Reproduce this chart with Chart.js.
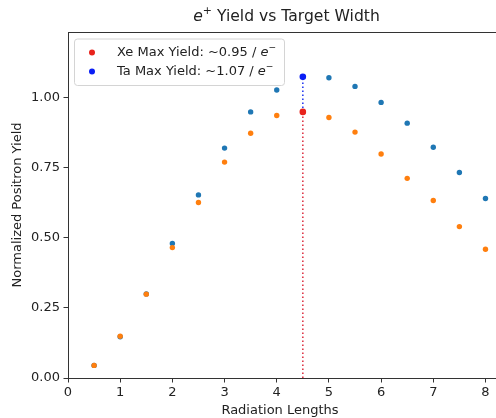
<!DOCTYPE html>
<html>
<head>
<meta charset="utf-8">
<script src="https://cdn.jsdelivr.net/npm/chart.js@4.4.0/dist/chart.umd.min.js"></script>
<style>
  html, body { margin: 0; padding: 0; overflow: hidden; background: #fff; }
  #chart { display: block; }
</style>
</head>
<body>
<canvas id="chart" width="496" height="418"></canvas>
<script>
const radiationLengths = [0.5, 1, 1.5, 2, 2.5, 3, 3.5, 4, 4.5, 5, 5.5, 6, 6.5, 7, 7.5, 8];
const xeYield = [0.045, 0.149, 0.299, 0.465, 0.626, 0.770, 0.873, 0.936, 0.949, 0.929, 0.877, 0.799, 0.712, 0.633, 0.540, 0.459];
const taYield = [0.045, 0.147, 0.300, 0.480, 0.653, 0.820, 0.949, 1.027, 1.074, 1.071, 1.040, 0.983, 0.909, 0.823, 0.733, 0.640];
const xeMax = { x: 4.5, y: 0.949 };
const taMax = { x: 4.5, y: 1.074 };
const xTicks = [0, 1, 2, 3, 4, 5, 6, 7, 8];
const yTicks = [0, 0.25, 0.5, 0.75, 1];
const xFullRange = 8.375; // the original axes run past the cropped right edge

const titleText = "e⁺ Yield vs Target Width";
const xLabel = "Radiation Lengths";
const yLabel = "Normalized Positron Yield";
const xeLabel = "Xe Max Yield: ~0.95 / e⁻";
const taLabel = "Ta Max Yield: ~1.07 / e⁻";

const FONT = "'DejaVu Sans', sans-serif";
const TEXT = "#222";
const AXIS = "#333";
const xeMaxColor = "#e8231c";
const taMaxColor = "#0a1ef5";

const toPoints = (ys) => radiationLengths.map((x, i) => ({ x, y: ys[i] }));

// draws "... e⁺ ..." with an italic e and a small raised sign, like mathtext
const drawRich = (ctx, text, x, y, size, align) => {
  const m = text.match(/^(.*?)e([⁺⁻])(.*)$/);
  const parts = m
    ? [
        { t: m[1], font: `${size}px ${FONT}`, dy: 0 },
        { t: "e", font: `italic ${size}px ${FONT}`, dy: 0 },
        { t: m[2] === "⁺" ? "+" : "−", font: `${size * 0.7}px ${FONT}`, dy: -size * 0.38 },
        { t: m[3], font: `${size}px ${FONT}`, dy: 0 },
      ]
    : [{ t: text, font: `${size}px ${FONT}`, dy: 0 }];
  let total = 0;
  parts.forEach((p) => {
    ctx.font = p.font;
    p.w = ctx.measureText(p.t).width;
    total += p.w;
  });
  let cx = align === "center" ? x - total / 2 : x;
  ctx.textAlign = "left";
  ctx.textBaseline = "middle";
  parts.forEach((p) => {
    ctx.font = p.font;
    ctx.fillText(p.t, cx, y + p.dy);
    cx += p.w;
  });
  return total;
};

const framePlugin = {
  id: "frame",
  afterDatasetsDraw(chart) {
    const { ctx, chartArea: a } = chart;
    ctx.save();
    ctx.strokeStyle = AXIS;
    ctx.lineWidth = 1;
    ctx.beginPath();
    // top spine and the bottom spine run on to the cropped edge
    ctx.moveTo(a.left, a.top + 0.5);
    ctx.lineTo(chart.width, a.top + 0.5);
    ctx.moveTo(a.right - 1, a.bottom + 0.5);
    ctx.lineTo(chart.width, a.bottom + 0.5);
    ctx.stroke();
    ctx.restore();
  },
  afterDraw(chart) {
    const { ctx, chartArea: a, scales } = chart;
    ctx.save();
    ctx.fillStyle = TEXT;
    const fullRight = scales.x.getPixelForValue(xFullRange);
    drawRich(ctx, titleText, (a.left + fullRight) / 2, 17, 15.6, "center");

    // legend
    const items = [
      { label: xeLabel, color: xeMaxColor },
      { label: taLabel, color: taMaxColor },
    ];
    const bx = a.left + 6, by = a.top + 6.5;
    ctx.globalAlpha = 0;
    let maxW = 0;
    items.forEach((it) => { maxW = Math.max(maxW, drawRich(ctx, it.label, 0, 0, 13, "left")); });
    ctx.globalAlpha = 1;
    const bw = 43 + maxW + 8, bh = 46.5;
    ctx.beginPath();
    ctx.roundRect(bx + 0.5, by + 0.5, bw, bh, 3);
    ctx.fillStyle = "rgba(255,255,255,0.8)";
    ctx.fill();
    ctx.strokeStyle = "#d4d4d4";
    ctx.lineWidth = 1;
    ctx.stroke();
    items.forEach((it, i) => {
      const cy = by + 14 + i * 19;
      ctx.beginPath();
      ctx.arc(bx + 18, cy, 3, 0, Math.PI * 2);
      ctx.fillStyle = it.color;
      ctx.fill();
      ctx.fillStyle = TEXT;
      drawRich(ctx, it.label, bx + 43, cy, 13, "left");
    });
    ctx.restore();
  },
};

const tickFont = { family: FONT, size: 13 };

new Chart(document.getElementById("chart"), {
  type: "scatter",
  data: {
    datasets: [
      { label: taLabel, data: [taMax], backgroundColor: taMaxColor, pointRadius: 3.3, borderWidth: 0, order: 0 },
      { label: xeLabel, data: [xeMax], backgroundColor: xeMaxColor, pointRadius: 3.3, borderWidth: 0, order: 0 },
      {
        label: "Xe max line", data: [{ x: xeMax.x, y: 0 }, xeMax], showLine: true,
        borderColor: "#dc2a3c", borderWidth: 1.5, borderDash: [1.5, 2.5], pointRadius: 0, order: 1,
      },
      {
        label: "Ta max line", data: [xeMax, taMax], showLine: true,
        borderColor: "#1a30f0", borderWidth: 1.5, borderDash: [1.5, 2.5], pointRadius: 0, order: 1,
      },
      { label: "Xe", data: toPoints(xeYield), backgroundColor: "#ff7f0e", pointRadius: 2.7, borderWidth: 0, order: 2 },
      { label: "Ta", data: toPoints(taYield), backgroundColor: "#1f77b4", pointRadius: 2.7, borderWidth: 0, order: 3 },
    ],
  },
  options: {
    responsive: false,
    animation: false,
    events: [],
    layout: { padding: { top: 32, right: 0, left: 0, bottom: 0 } },
    plugins: { legend: { display: false }, title: { display: false }, tooltip: { enabled: false } },
    scales: {
      x: {
        type: "linear",
        min: 0,
        max: 8.125,
        afterBuildTicks: (s) => { s.ticks = xTicks.map((value) => ({ value })); },
        afterFit: (s) => { s.height = 40; },
        ticks: { font: tickFont, color: TEXT, padding: 2, autoSkip: false, maxRotation: 0 },
        grid: { drawOnChartArea: false, drawTicks: true, tickLength: 4.5, tickColor: AXIS, tickWidth: 1 },
        border: { display: true, color: AXIS, width: 1 },
        title: { display: true, text: xLabel, font: tickFont, color: TEXT, padding: { top: 0, bottom: 0 } },
      },
      y: {
        type: "linear",
        min: 0,
        max: 1.234,
        afterBuildTicks: (s) => { s.ticks = yTicks.map((value) => ({ value })); },
        afterFit: (s) => { s.width = 68; },
        ticks: { font: tickFont, color: TEXT, padding: 3.5, callback: (v) => Number(v).toFixed(2) },
        grid: { drawOnChartArea: false, drawTicks: true, tickLength: 4.5, tickColor: AXIS, tickWidth: 1 },
        border: { display: true, color: AXIS, width: 1 },
        title: { display: true, text: yLabel, font: tickFont, color: TEXT, padding: { top: 9.7, bottom: 0 } },
      },
    },
  },
  plugins: [framePlugin],
});
</script>
</body>
</html>
